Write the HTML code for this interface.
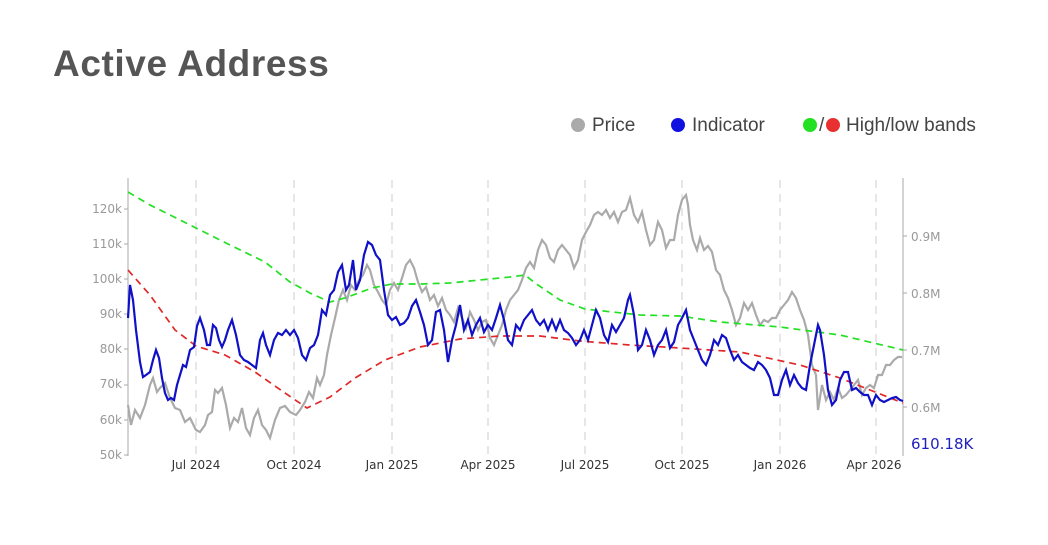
<!DOCTYPE html>
<html><head><meta charset="utf-8"><style>
body{margin:0;background:#fff;width:1048px;height:540px;overflow:hidden;font-family:"Liberation Sans",sans-serif}
</style></head><body>
<svg width="1048" height="540" xmlns="http://www.w3.org/2000/svg" font-family="Liberation Sans, sans-serif">
<text x="53" y="76" font-size="37" font-weight="bold" fill="#555" letter-spacing="0.6">Active Address</text>
<circle cx="578" cy="125" r="7" fill="#aaa"/><text x="592" y="131" font-size="19" fill="#444">Price</text>
<circle cx="678" cy="125" r="7" fill="#1010e0"/><text x="692" y="131" font-size="19" fill="#444">Indicator</text>
<circle cx="810" cy="125" r="7" fill="#22e022"/><text x="819" y="131" font-size="19" fill="#444">/</text>
<circle cx="833" cy="125" r="7" fill="#e83030"/><text x="846" y="131" font-size="19" fill="#444">High/low bands</text>
<g stroke="#ccc" stroke-dasharray="8,6" stroke-width="1">
<line x1="196" y1="180" x2="196" y2="455"/><line x1="294" y1="180" x2="294" y2="455"/><line x1="392" y1="180" x2="392" y2="455"/><line x1="488" y1="180" x2="488" y2="455"/><line x1="585" y1="180" x2="585" y2="455"/><line x1="682" y1="180" x2="682" y2="455"/><line x1="780" y1="180" x2="780" y2="455"/><line x1="876" y1="180" x2="876" y2="455"/>
</g>
<line x1="128" y1="178" x2="128" y2="456" stroke="#aaa"/>
<line x1="903" y1="178" x2="903" y2="456" stroke="#aaa"/>
<g font-size="12" fill="#999" text-anchor="end" font-family="DejaVu Sans, sans-serif">
<text x="122" y="213">120k</text><text x="122" y="248">110k</text><text x="122" y="283">100k</text><text x="122" y="318">90k</text><text x="122" y="353">80k</text><text x="122" y="388">70k</text><text x="122" y="424">60k</text><text x="122" y="459">50k</text>
</g>
<g stroke="#aaa"><line x1="124" y1="209" x2="128" y2="209"/><line x1="124" y1="244" x2="128" y2="244"/><line x1="124" y1="279" x2="128" y2="279"/><line x1="124" y1="314" x2="128" y2="314"/><line x1="124" y1="349" x2="128" y2="349"/><line x1="124" y1="385" x2="128" y2="385"/><line x1="124" y1="420" x2="128" y2="420"/><line x1="124" y1="455" x2="128" y2="455"/>
<line x1="903" y1="236" x2="907" y2="236"/><line x1="903" y1="293" x2="907" y2="293"/><line x1="903" y1="350" x2="907" y2="350"/><line x1="903" y1="407" x2="907" y2="407"/></g>
<g font-size="12" fill="#999" font-family="DejaVu Sans, sans-serif"><text x="911" y="241">0.9M</text><text x="911" y="298">0.8M</text><text x="911" y="355">0.7M</text><text x="911" y="412">0.6M</text></g>
<text x="911" y="449" font-size="15" fill="#2020c0" font-family="DejaVu Sans, sans-serif">610.18K</text>
<g font-size="12" fill="#333" text-anchor="middle" font-family="DejaVu Sans, sans-serif">
<text x="196" y="469">Jul 2024</text><text x="294" y="469">Oct 2024</text><text x="392" y="469">Jan 2025</text><text x="488" y="469">Apr 2025</text><text x="585" y="469">Jul 2025</text><text x="682" y="469">Oct 2025</text><text x="780" y="469">Jan 2026</text><text x="874" y="469">Apr 2026</text>
</g>
<polyline fill="none" stroke="#aaa" stroke-width="2.2" points="128,405 131,425 135,410 140,418 145,405 150,385 153,378 157,392 160,388 165,383 170,398 175,408 180,410 185,422 190,418 196,430 200,432 205,425 208,415 212,412 215,390 218,393 222,388 226,405 230,428 234,418 238,422 242,408 246,428 250,435 254,418 258,410 262,425 266,430 270,438 275,420 280,408 285,406 290,412 296,415 300,410 305,402 309,392 313,398 317,378 320,385 324,375 327,355 331,335 335,318 339,300 343,290 347,300 351,285 355,290 359,280 363,275 367,265 370,270 374,285 378,292 382,300 386,305 390,290 394,283 398,290 402,278 406,265 410,260 414,268 418,282 422,292 426,287 430,300 434,295 438,306 442,298 446,310 450,315 454,322 458,308 462,318 466,328 470,312 474,320 478,330 482,322 486,320 490,338 494,345 498,335 502,325 506,310 510,300 514,295 518,290 522,280 526,268 530,262 534,268 538,250 542,240 546,245 550,258 554,262 558,250 562,245 566,250 570,255 574,268 578,260 582,240 586,232 590,225 594,215 598,212 602,215 606,210 610,218 614,212 618,222 622,212 626,210 630,198 634,215 638,222 642,212 646,230 650,245 654,240 658,222 662,230 666,248 670,240 674,240 678,215 682,200 686,195 688,205 690,225 693,240 697,250 700,238 704,250 708,246 712,252 716,270 720,275 724,290 728,298 732,310 736,325 740,318 744,303 748,310 752,303 756,315 760,325 764,320 768,322 772,318 776,318 780,310 784,305 788,300 792,292 796,298 800,310 804,320 808,335 812,365 816,375 818,410 822,385 826,400 830,392 834,400 838,388 842,398 846,395 850,390 854,385 858,380 862,395 866,388 870,385 874,388 878,375 882,375 886,365 890,365 894,360 898,357 902,357"/>
<polyline fill="none" stroke="#22e022" stroke-width="1.7" stroke-dasharray="7,5" points="128,192 150,205 196,228 230,245 265,262 290,282 310,293 330,302 345,298 372,288 392,284 420,284 450,283 480,280 510,277 525,275 535,283 560,300 585,309 640,315 680,316 720,322 780,327 840,335 903,350"/>
<polyline fill="none" stroke="#e02828" stroke-width="1.7" stroke-dasharray="7,5" points="128,270 150,295 175,330 196,346 225,355 255,372 285,393 307,408 330,397 355,378 385,360 420,347 460,339 500,336 540,336 580,341 630,345 680,348 740,352 800,365 840,378 870,390 903,403"/>
<polyline fill="none" stroke="#1010c8" stroke-width="2.2" points="128,318 130,285 133,300 136,330 140,362 143,377 146,375 150,372 153,360 156,350 159,358 162,378 165,393 168,400 171,398 174,400 177,385 180,375 183,365 186,367 190,350 194,347 197,326 200,318 204,330 207,345 210,345 213,325 216,328 219,340 222,347 225,340 228,330 232,320 236,335 240,355 244,360 248,362 252,365 256,368 260,340 263,333 266,345 270,355 274,340 278,333 282,335 286,330 290,335 294,330 298,338 302,355 306,360 310,348 314,345 318,335 322,310 326,315 330,295 334,290 338,272 342,265 346,290 349,285 353,260 356,290 360,280 364,255 368,242 372,245 376,255 380,260 384,290 388,315 392,320 396,317 400,325 404,323 408,318 412,306 416,300 420,312 424,325 428,345 432,340 436,312 440,310 444,330 448,362 452,340 456,325 460,305 464,330 468,320 472,335 476,325 480,318 484,332 488,325 492,330 496,318 500,305 504,320 508,340 512,345 516,325 520,330 524,320 528,315 532,310 536,320 540,325 544,320 548,330 552,320 556,330 560,320 564,330 568,333 572,338 576,345 580,340 584,330 588,340 592,325 596,310 600,318 604,335 608,342 612,325 616,332 620,325 624,318 628,300 630,295 634,315 638,350 642,345 646,330 650,340 654,355 658,345 662,340 666,330 670,348 674,342 678,325 682,318 686,310 690,330 694,340 698,350 702,360 706,365 710,355 714,340 718,345 722,335 726,338 730,350 734,360 738,355 742,362 746,365 750,368 754,370 758,362 762,365 766,370 770,378 774,395 778,395 782,380 786,370 790,385 794,375 798,383 802,388 806,390 810,365 814,345 818,325 820,330 824,355 828,390 832,405 836,400 840,380 844,372 848,372 852,390 856,388 860,392 864,395 868,395 872,405 876,395 880,400 884,402 888,400 892,398 896,397 900,400 903,401"/>
</svg>
</body></html>
